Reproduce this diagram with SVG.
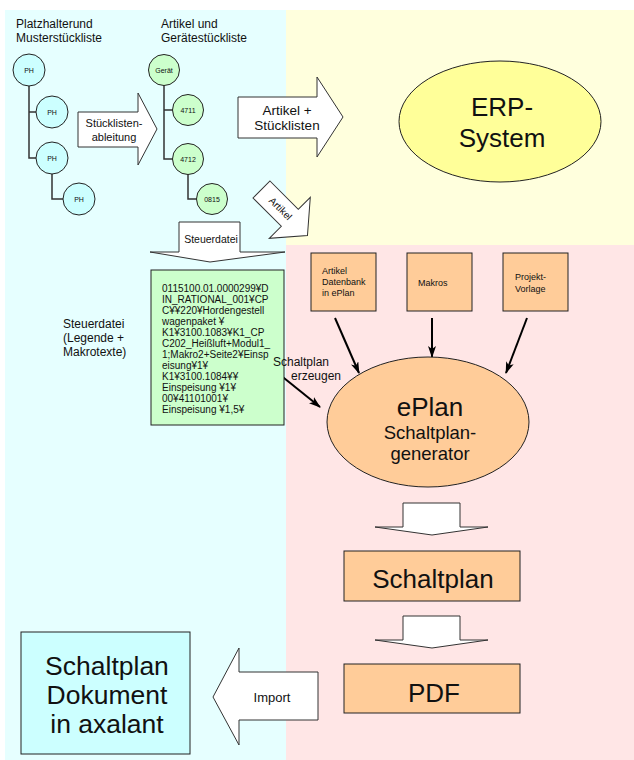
<svg xmlns="http://www.w3.org/2000/svg" width="634" height="760" viewBox="0 0 634 760">
<style>
text{font-family:"Liberation Sans",Arial,sans-serif;fill:#111}
.bg{stroke:none}
.sh{stroke:#222;stroke-width:1}
.ph{fill:#ccffff;stroke:#222;stroke-width:1}
.gr{fill:#ccffcc;stroke:#222;stroke-width:1}
.or{fill:#ffcc99;stroke:#222;stroke-width:1}
.ar{fill:#fff;stroke:#333;stroke-width:1}
.tree{fill:none;stroke:#333;stroke-width:1.5}
.ln{fill:none;stroke:#000;stroke-width:2}
.c7{font-size:7px;text-anchor:middle}
.m{text-anchor:middle}
</style>
<defs>
<marker id="ah" viewBox="0 0 12 8" refX="11" refY="4" markerWidth="12" markerHeight="8" markerUnits="userSpaceOnUse" orient="auto">
<path d="M0,0 L12,4 L0,8 L3,4 Z" fill="#000"/>
</marker>
</defs>
<g id="backgrounds">
<rect class="bg" x="5" y="10" width="281" height="750" fill="#e6ffff"/>
<rect class="bg" x="286" y="10" width="348" height="235" fill="#ffffdd"/>
<rect class="bg" x="286" y="245" width="348" height="515" fill="#ffe6e6"/>
</g>
<g id="titles">
<text x="16" y="28" font-size="12">Platzhalterund</text>
<text x="16" y="42" font-size="12">Musterstückliste</text>
<text x="161" y="28" font-size="12">Artikel und</text>
<text x="161" y="42" font-size="12">Gerätestückliste</text>
</g>
<g id="connectors">
<path class="tree" d="M29,86 V158 H36 M29,112 H36 M52,174 V199 H63"/>
<path class="tree" d="M164,85 V159 H173 M164,110 H173 M188,174 V199 H197"/>
<line class="ln" x1="335" y1="318" x2="359" y2="373" marker-end="url(#ah)"/>
<line class="ln" x1="432" y1="318" x2="432" y2="357" marker-end="url(#ah)"/>
<line class="ln" x1="527" y1="318" x2="506" y2="373" marker-end="url(#ah)"/>
<line class="ln" x1="279" y1="374" x2="320" y2="407" marker-end="url(#ah)"/>
</g>
<g id="ph-tree">
<circle class="ph" cx="29" cy="70" r="16"/><text class="c7" x="29" y="72.5">PH</text>
<circle class="ph" cx="52" cy="112" r="16"/><text class="c7" x="52" y="114.5">PH</text>
<circle class="ph" cx="52" cy="158" r="16"/><text class="c7" x="52" y="160.5">PH</text>
<circle class="ph" cx="79" cy="199" r="16"/><text class="c7" x="79" y="201.5">PH</text>
</g>
<g id="article-tree">
<circle class="gr" cx="164" cy="70" r="15.5"/><text class="c7" x="164" y="72.5">Gerät</text>
<circle class="gr" cx="188" cy="110" r="15.5"/><text class="c7" x="188" y="112.5">4711</text>
<circle class="gr" cx="188" cy="159" r="15.5"/><text class="c7" x="188" y="161.5">4712</text>
<circle class="gr" cx="212" cy="199" r="15.5"/><text class="c7" x="212" y="201.5">0815</text>
</g>
<g id="arrow-stueckliste">
<polygon class="ar" points="78,112 138,112 138,93 157,129 138,165 138,147 78,147"/>
<text class="m" x="114" y="127" font-size="11">Stücklisten-</text>
<text class="m" x="114" y="141" font-size="11">ableitung</text>
</g>
<g id="arrow-erp">
<polygon class="ar" points="238,97 317,97 317,77 343,117 317,157 317,138 238,138"/>
<text class="m" x="287" y="115" font-size="13.5">Artikel +</text>
<text class="m" x="287" y="130" font-size="13.5">Stücklisten</text>
</g>
<g id="arrow-artikel" transform="translate(261.5,189.5) rotate(45)">
<polygon class="ar" points="0,-12 40,-12 40,-29 65,0 40,29 40,12 0,12"/>
<text class="m" x="27" y="3.5" font-size="10">Artikel</text>
</g>
<g id="erp">
<ellipse cx="500" cy="121.5" rx="101" ry="60.5" fill="#ffff99" stroke="#222" stroke-width="1"/>
<text class="m" x="502" y="116" font-size="26">ERP-</text>
<text class="m" x="502" y="147" font-size="26">System</text>
</g>
<g id="arrow-steuerdatei">
<polygon class="ar" points="179,222 240,222 240,252 285,252 210,262 150,252 179,252"/>
<text class="m" x="211" y="243" font-size="10.5">Steuerdatei</text>
</g>
<g id="steuerdatei-note">
<rect x="151" y="270" width="133" height="155" fill="#ccffcc" stroke="#222" stroke-width="1"/>
<g font-size="10">
<text x="162" y="292">0115100.01.0000299¥D</text>
<text x="162" y="303">IN_RATIONAL_001¥CP</text>
<text x="162" y="314">C¥¥220¥Hordengestell</text>
<text x="162" y="325">wagenpaket ¥</text>
<text x="162" y="336">K1¥3100.1083¥K1_CP</text>
<text x="162" y="347">C202_Heißluft+Modul1_</text>
<text x="162" y="358">1;Makro2+Seite2¥Einsp</text>
<text x="162" y="369">eisung¥1¥</text>
<text x="162" y="380">K1¥3100.1084¥¥</text>
<text x="162" y="391">Einspeisung ¥1¥</text>
<text x="162" y="402">00¥41101001¥</text>
<text x="162" y="413">Einspeisung ¥1,5¥</text>
</g>
</g>
<g id="steuerdatei-label">
<text x="63" y="328" font-size="12">Steuerdatei</text>
<text x="63" y="342" font-size="12">(Legende +</text>
<text x="63" y="356" font-size="12">Makrotexte)</text>
</g>
<g id="box-artikel-db">
<rect class="or" x="311" y="253" width="65" height="58"/>
<text x="322" y="274" font-size="9">Artikel</text>
<text x="322" y="285" font-size="9">Datenbank</text>
<text x="322" y="296" font-size="9">in ePlan</text>
</g>
<g id="box-makros">
<rect class="or" x="407" y="253" width="65" height="58"/>
<text x="418" y="286" font-size="9">Makros</text>
</g>
<g id="box-vorlage">
<rect class="or" x="503" y="253" width="65" height="58"/>
<text x="515" y="280" font-size="9">Projekt-</text>
<text x="515" y="292" font-size="9">Vorlage</text>
</g>
<g id="label-erzeugen">
<text x="273" y="366" font-size="12">Schaltplan</text>
<text x="291" y="380" font-size="12">erzeugen</text>
</g>
<g id="eplan">
<ellipse cx="428" cy="422" rx="101" ry="65" fill="#ffcc99" stroke="#222" stroke-width="1"/>
<text class="m" x="430" y="416" font-size="26">ePlan</text>
<text class="m" x="430" y="439" font-size="18.5">Schaltplan-</text>
<text class="m" x="430" y="460" font-size="18.5">generator</text>
</g>
<g id="arrow-down-1">
<polygon class="ar" points="403,503 460,503 460,527 488,527 432,535 375,527 403,527"/>
</g>
<g id="schaltplan">
<rect class="or" x="344" y="551" width="176" height="50"/>
<text class="m" x="433" y="588" font-size="26">Schaltplan</text>
</g>
<g id="arrow-down-2">
<polygon class="ar" points="403,616 460,616 460,640 488,640 432,648 375,640 403,640"/>
</g>
<g id="pdf">
<rect class="or" x="344" y="664" width="176" height="49"/>
<text class="m" x="434" y="702" font-size="26">PDF</text>
</g>
<g id="arrow-import">
<polygon class="ar" points="318,672 239,672 239,648 213,697 239,745 239,720 318,720"/>
<text class="m" x="272" y="702" font-size="13">Import</text>
</g>
<g id="axalant">
<rect x="21" y="632" width="169" height="122" fill="#ccffff" stroke="#222" stroke-width="1"/>
<text class="m" x="107" y="675" font-size="26.5">Schaltplan</text>
<text class="m" x="107" y="704" font-size="26.5">Dokument</text>
<text class="m" x="107" y="733" font-size="26.5">in axalant</text>
</g>
</svg>
